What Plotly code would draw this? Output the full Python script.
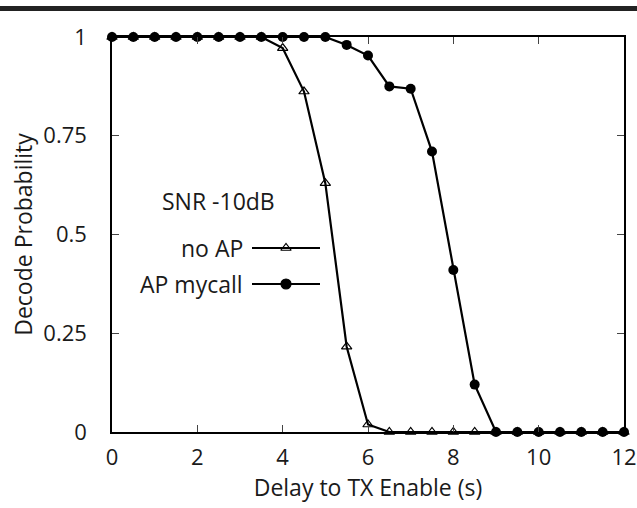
import plotly.graph_objects as go

# ---- data ----
delay = [i * 0.5 for i in range(25)]  # 0 .. 12 s in 0.5 s steps
no_ap = [1, 1, 1, 1, 1, 1, 1, 1, 0.972, 0.862, 0.63, 0.216, 0.019,
         0, 0, 0, 0, 0, 0, 0, 0, 0, 0, 0, 0]
ap_mycall = [1, 1, 1, 1, 1, 1, 1, 1, 1, 1, 1, 0.98, 0.953, 0.875, 0.869,
             0.71, 0.41, 0.12, 0, 0, 0, 0, 0, 0, 0]
series_names = ["no AP", "AP mycall"]
legend_title = "SNR -10dB"
x_title = "Delay to TX Enable (s)"
y_title = "Decode Probability"
y_tickvals = [0, 0.25, 0.5, 0.75, 1]
y_ticktext = ["0", "0.25", "0.5", "0.75", "1"]

FONT = "Open Sans"
TXT = "#1a1a1a"
W, H = 637, 508
L, R, T, B = 112, 13, 37, 76
PW, PH = W - L - R, H - T - B


def px_x(p):
    return (p - L) / PW


def px_y(p):
    return (H - B - p) / PH


fig = go.Figure()
fig.add_trace(go.Scatter(
    x=delay, y=no_ap, mode="lines+markers", name=series_names[0],
    line=dict(color="black", width=2.2),
    marker=dict(symbol="triangle-up-open", size=9, color="black",
                line=dict(width=1.2, color="black")),
    cliponaxis=False, showlegend=False))
fig.add_trace(go.Scatter(
    x=delay, y=ap_mycall, mode="lines+markers", name=series_names[1],
    line=dict(color="black", width=2.2),
    marker=dict(symbol="circle", size=10, color="black"),
    cliponaxis=False, showlegend=False))

# legend key samples (drawn on an overlay axis spanning the plot area in [0,1])
key_x = [px_x(252), px_x(286), px_x(320)]
key_rows = [(px_y(248), "triangle-up-open", 9), (px_y(284), "circle", 10)]
for (ky, sym, sz), name in zip(key_rows, series_names):
    fig.add_trace(go.Scatter(
        x=[key_x[0], key_x[2]], y=[ky, ky], mode="lines",
        line=dict(color="black", width=2.2), xaxis="x2", yaxis="y2",
        showlegend=False, hoverinfo="skip", cliponaxis=False))
    fig.add_trace(go.Scatter(
        x=[key_x[1]], y=[ky], mode="markers",
        marker=dict(symbol=sym, size=sz, color="black",
                    line=dict(width=1.2, color="black")),
        xaxis="x2", yaxis="y2", showlegend=False, hoverinfo="skip",
        cliponaxis=False))
    fig.add_annotation(x=px_x(245), y=ky, xref="paper", yref="paper",
                       text=name, showarrow=False, xanchor="right",
                       yanchor="middle", font=dict(family=FONT, size=23, color=TXT))

fig.add_annotation(x=px_x(218), y=px_y(201), xref="paper", yref="paper",
                   text=legend_title, showarrow=False, xanchor="center",
                   yanchor="middle", font=dict(family=FONT, size=23, color=TXT))

# dark rule at top of the page
fig.add_shape(type="rect", xref="paper", yref="paper",
              x0=px_x(0), x1=px_x(W), y0=px_y(11), y1=px_y(6),
              fillcolor="#222222", line=dict(width=0), layer="above")

axis_common = dict(showline=True, linecolor="black", linewidth=1.5,
                   mirror="ticks", ticks="inside", ticklen=7, tickwidth=1,
                   tickcolor="#444444", showgrid=False, zeroline=False,
                   automargin=False, ticklabeloverflow="allow",
                   tickfont=dict(family=FONT, size=22, color=TXT))

fig.update_layout(
    width=W, height=H, margin=dict(l=L, r=R, t=T, b=B, autoexpand=False),
    paper_bgcolor="white", plot_bgcolor="white",
    xaxis=dict(range=[0, 12], dtick=2, tick0=0,
               title=dict(text=x_title, font=dict(family=FONT, size=23, color=TXT),
                          standoff=5),
               ticklabelstandoff=5, **axis_common),
    yaxis=dict(range=[0, 1], tickvals=y_tickvals, ticktext=y_ticktext,
               title=dict(text=y_title, font=dict(family=FONT, size=23, color=TXT),
                          standoff=4),
               ticklabelstandoff=19, **axis_common),
    xaxis2=dict(range=[0, 1], overlaying="x", anchor="y2", visible=False),
    yaxis2=dict(range=[0, 1], overlaying="y", anchor="x2", visible=False),
    showlegend=False,
)

fig.write_html("out.html", config={"displayModeBar": False},
               post_script="document.body.style.margin='0';document.body.style.padding='0';")
